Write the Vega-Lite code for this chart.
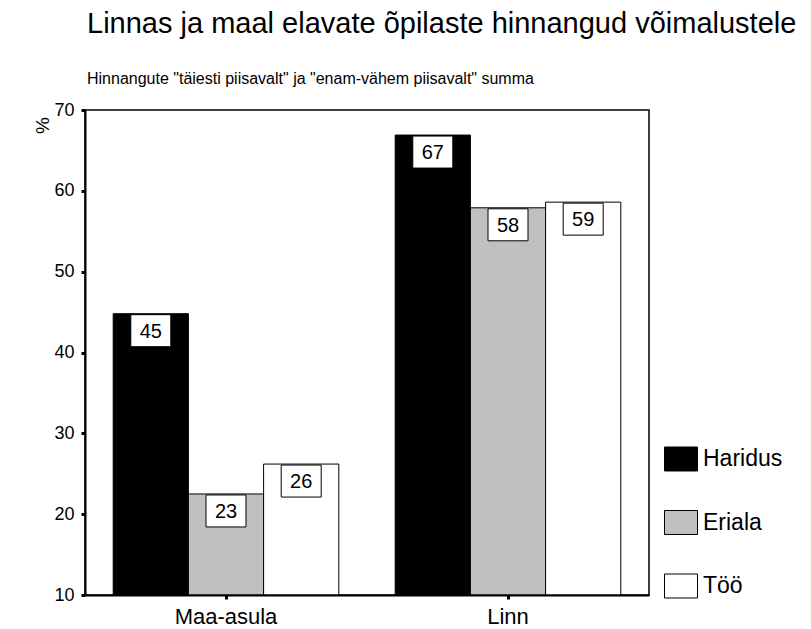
{
  "$schema": "https://vega.github.io/schema/vega-lite/v6.json",
  "width": 564,
  "height": 485,
  "autosize": {"type": "none"},
  "padding": {"left": 85, "top": 110, "right": 162, "bottom": 34},
  "background": "white",
  "title": {
    "text": "Linnas ja maal elavate õpilaste hinnangud võimalustele",
    "subtitle": "Hinnangute \"täiesti piisavalt\" ja \"enam-vähem piisavalt\" summa",
    "anchor": "start",
    "frame": "group",
    "dx": 2,
    "offset": 14,
    "font": "Liberation Sans",
    "fontSize": 29,
    "fontWeight": "normal",
    "color": "#000",
    "subtitleFont": "Liberation Sans",
    "subtitleFontSize": 16,
    "subtitleColor": "#000",
    "subtitlePadding": 32
  },
  "config": {
    "view": {"stroke": "#000", "strokeWidth": 1.5},
    "font": "Liberation Sans"
  },
  "data": {
    "values": [
      {"paik": "Maa-asula", "valdkond": "Haridus", "protsent": 44.8, "silt": "45"},
      {"paik": "Maa-asula", "valdkond": "Eriala", "protsent": 22.5, "silt": "23"},
      {"paik": "Maa-asula", "valdkond": "Töö", "protsent": 26.2, "silt": "26"},
      {"paik": "Linn", "valdkond": "Haridus", "protsent": 66.9, "silt": "67"},
      {"paik": "Linn", "valdkond": "Eriala", "protsent": 57.9, "silt": "58"},
      {"paik": "Linn", "valdkond": "Töö", "protsent": 58.6, "silt": "59"}
    ]
  },
  "encoding": {
    "x": {
      "field": "paik",
      "type": "nominal",
      "sort": ["Maa-asula", "Linn"],
      "scale": {"paddingInner": 0.2, "paddingOuter": 0.1},
      "axis": {
        "title": null,
        "labelAngle": 0,
        "labelFontSize": 22,
        "labelColor": "#000",
        "labelPadding": 7,
        "tickSize": 4,
        "tickWidth": 3,
        "tickColor": "#000",
        "domainColor": "#000",
        "domainWidth": 2,
        "zindex": 1
      }
    },
    "xOffset": {
      "field": "valdkond",
      "type": "nominal",
      "sort": ["Haridus", "Eriala", "Töö"],
      "scale": {"paddingInner": 0, "paddingOuter": 0}
    },
    "y": {
      "field": "protsent",
      "type": "quantitative",
      "scale": {"domain": [10, 70], "zero": false, "nice": false},
      "axis": {
        "values": [10, 20, 30, 40, 50, 60, 70],
        "grid": false,
        "title": "%",
        "titleAngle": -90,
        "titleFontSize": 19,
        "titleFontWeight": "normal",
        "titleColor": "#000",
        "titleX": -43,
        "titleY": 15,
        "titleAlign": "center",
        "titleBaseline": "middle",
        "labelFontSize": 18,
        "labelColor": "#000",
        "labelPadding": 7,
        "tickSize": 4,
        "tickWidth": 3,
        "tickColor": "#000",
        "domainColor": "#000",
        "domainWidth": 2,
        "zindex": 1
      }
    }
  },
  "layer": [
    {
      "mark": {"type": "bar", "stroke": "#000", "strokeWidth": 1, "opacity": 1},
      "encoding": {
        "y2": {"datum": 10},
        "color": {
          "field": "valdkond",
          "type": "nominal",
          "sort": ["Haridus", "Eriala", "Töö"],
          "scale": {"domain": ["Haridus", "Eriala", "Töö"], "range": ["#000000", "#c0c0c0", "#ffffff"]},
          "legend": {
            "title": null,
            "orient": "none",
            "legendX": 579,
            "legendY": 332,
            "padding": 0,
            "symbolType": "M-1,-0.727L1,-0.727L1,0.727L-1,0.727Z",
            "symbolSize": 1089,
            "symbolStrokeColor": "#000",
            "symbolStrokeWidth": 1,
            "symbolOpacity": 1,
            "labelFontSize": 23,
            "labelColor": "#000",
            "labelOffset": 5,
            "rowPadding": 32.5
          }
        }
      }
    },
    {
      "mark": {
        "type": "point",
        "shape": "M-1.25,-1L1.25,-1L1.25,1L-1.25,1Z",
        "size": 1024,
        "filled": true,
        "fill": "#fff",
        "stroke": "#000",
        "strokeWidth": 1,
        "opacity": 1,
        "yOffset": 17
      },
      "encoding": {}
    },
    {
      "mark": {
        "type": "text",
        "fontSize": 20,
        "color": "#000",
        "baseline": "middle",
        "align": "center",
        "yOffset": 18
      },
      "encoding": {"text": {"field": "silt"}}
    }
  ]
}
